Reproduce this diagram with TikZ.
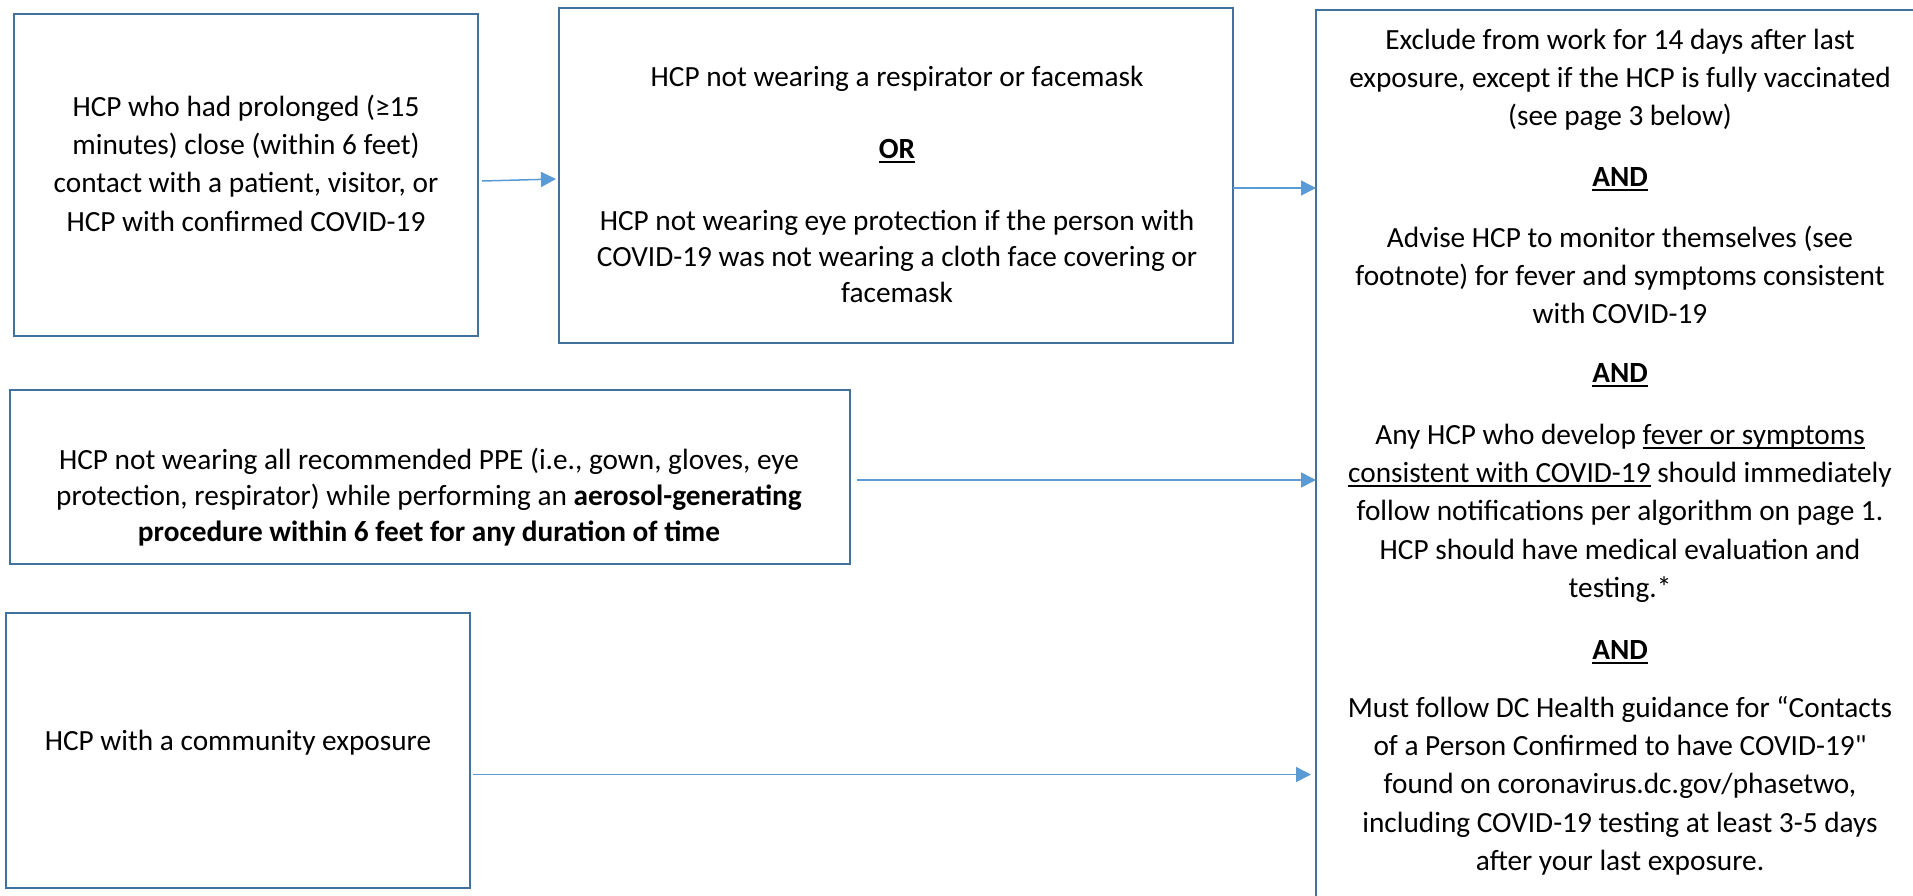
\documentclass[tikz,border=0pt]{standalone}
\usepackage{fontspec}
\newfontfamily\calfont{Carlito}
\usetikzlibrary{arrows.meta}
\definecolor{boxblue}{RGB}{65,113,156}
\definecolor{arrowblue}{RGB}{91,155,213}
\newlength\ulwd
\newcommand\myul[1]{\settowidth\ulwd{#1}\rlap{\rule[-4.5pt]{\ulwd}{1.7pt}}#1}
\tikzset{
  frame/.style={draw=boxblue, line width=2.2pt, inner sep=0pt, outer sep=0pt},
  txt/.style={anchor=base, inner sep=0pt, align=center, font=\calfont\fontsize{29.3}{38.4}\selectfont},
  txtn/.style={anchor=base, inner sep=0pt, align=center, font=\calfont\fontsize{29.3}{36}\selectfont},
  conn/.style={draw=arrowblue, line width=1.5pt, -{Triangle[length=15pt,width=15pt]}},
}
\newcommand\lines[1]{\begin{tabular}[t]{@{}c@{}}#1\end{tabular}}
\begin{document}
\begin{tikzpicture}[x=1pt,y=-1pt]
\clip (0,0) rectangle (1913,895);
\fill[white] (0,0) rectangle (1913,895);
% frames
\node[frame, minimum width=464pt, minimum height=322pt] (b1) at (246,175) {};
\node[frame, minimum width=674pt, minimum height=335pt] (b2) at (896,175.5) {};
\node[frame, minimum width=608pt, minimum height=895pt] (b3) at (1620,457.5) {};
\node[frame, minimum width=840pt, minimum height=174pt] (b4) at (430,477) {};
\node[frame, minimum width=464pt, minimum height=275pt] (b5) at (238,750.5) {};
% box 1 text
\node[txt] (t1) at (246,116) {\lines{HCP who had prolonged (≥15\\ minutes) close (within 6 feet)\\ contact with a patient, visitor, or\\ HCP with confirmed COVID-19}};
% box 2 text
\node[txtn] (t2a) at (897,86) {\lines{HCP not wearing a respirator or facemask}};
\node[txtn] (t2or) at (897,158) {\lines{\textbf{\myul{OR}}}};
\node[txtn] (t2b) at (897,230) {\lines{HCP not wearing eye protection if the person with\\ COVID-19 was not wearing a cloth face covering or\\ facemask}};
% box 3 text
\node[txt] (t3a) at (1620,49) {\lines{Exclude from work for 14 days after last\\ exposure, except if the HCP is fully vaccinated\\ (see page 3 below)}};
\node[txt] (and1) at (1620,186) {\lines{\textbf{\myul{AND}}}};
\node[txt] (t3b) at (1620,247) {\lines{Advise HCP to monitor themselves (see\\ footnote) for fever and symptoms consistent\\ with COVID-19}};
\node[txt] (and2) at (1620,382) {\lines{\textbf{\myul{AND}}}};
\node[txt] (t3c) at (1620,444) {\lines{Any HCP who develop \myul{fever or symptoms}\\ \myul{consistent with COVID-19} should immediately\\ follow notifications per algorithm on page 1.\\ HCP should have medical evaluation and\\ testing.*}};
\node[txt] (and3) at (1620,659) {\lines{\textbf{\myul{AND}}}};
\node[txt] (t3d) at (1620,717) {\lines{Must follow DC Health guidance for “Contacts\\ of a Person Confirmed to have COVID-19"\\ found on coronavirus.dc.gov/phasetwo,\\ including COVID-19 testing at least 3-5 days\\ after your last exposure.}};
% box 4 text
\node[txtn] (t4) at (429,469) {\lines{HCP not wearing all recommended PPE (i.e., gown, gloves, eye\\ protection, respirator) while performing an \textbf{aerosol-generating}\\ \textbf{procedure within 6 feet for any duration of time}}};
% box 5 text
\node[txt] (t5) at (238,750) {\lines{HCP with a community exposure}};
% connectors
\draw[conn] ([xshift=4pt,yshift=-6pt]b1.east) -- ([xshift=-3pt,yshift=-3.5pt]b2.west);
\path ([yshift=-12.5pt]b2.east) coordinate (a2s);
\draw[conn] (a2s) -- (b3.west |- a2s);
\path ([xshift=7pt,yshift=-3pt]b4.east) coordinate (a3s);
\draw[conn] (a3s) -- (b3.west |- a3s);
\path ([xshift=3pt,yshift=-24pt]b5.east) coordinate (a4s);
\draw[conn, shorten >=5pt] (a4s) -- (b3.west |- a4s);
\end{tikzpicture}
\end{document}
